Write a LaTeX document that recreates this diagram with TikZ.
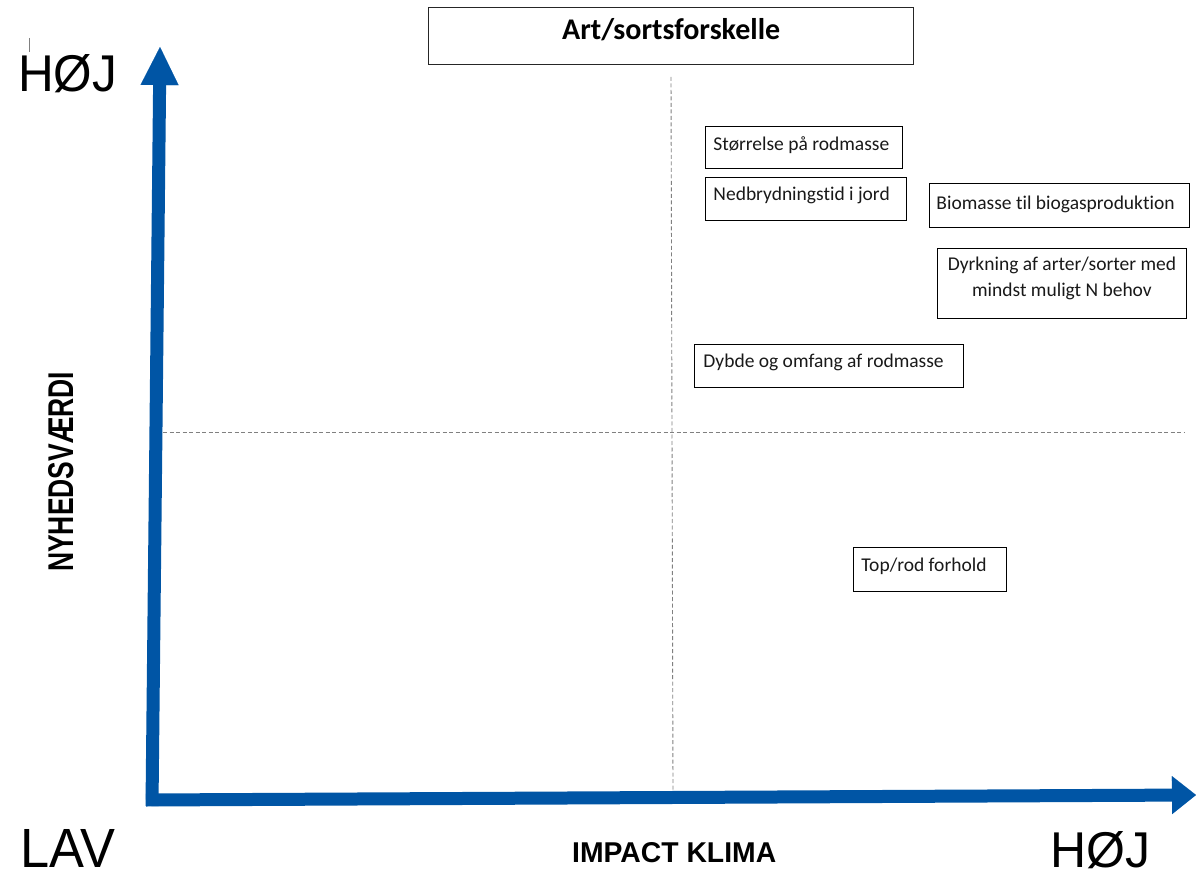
\documentclass[tikz,border=0pt]{standalone}
\usepackage{fontspec}
\setmainfont{Carlito}[Ligatures=NoCommon]
\newfontfamily\arialfont{Liberation Sans}
\usepackage{graphicx}
\usetikzlibrary{arrows.meta,calc}
\definecolor{axisblue}{RGB}{0,85,165}
\definecolor{gridgray}{RGB}{128,128,128}
\tikzset{
  axisline/.style={draw=axisblue, line width=13pt},
  gridline/.style={draw=gridgray, line width=0.9pt, dash pattern=on 4pt off 2.5pt},
  itembox/.style={draw=black, line width=0.9pt, anchor=north west, inner ysep=0pt,
    align=flush left, font=\fontsize{19.5}{24}\selectfont, text=black!90},
  biglabel/.style={inner sep=0pt, font=\arialfont, text=black},
}
\begin{document}
\begin{tikzpicture}[x=1pt,y=-1pt]
\useasboundingbox (0,0) rectangle (1196,874);

% dashed quadrant lines
\coordinate (vtop) at (671,77);
\coordinate (vbot) at (673,790);
\coordinate (hl) at (163,432);
\coordinate (hr) at (1185,432);
\draw[gridline] (vtop) -- (vbot);
\draw[gridline] (hl) -- (hr);

% axes
\coordinate (ystart) at (152,806);
\coordinate (ytop) at (160,47);
\coordinate (xstart) at (146,800);
\coordinate (xend) at (1196,795);
\draw[axisline, -{Triangle[length=38pt,width=38pt,line width=0.1pt]}] (ystart) -- (ytop);
\draw[axisline, -{Triangle[length=24pt,width=38pt,line width=0.1pt]}] (xstart) -- (xend);

% small tick mark
\draw[gray, line width=0.8pt] (29,38) -- (29,52);

% title
\node[draw=black!85, line width=1.3pt, anchor=north west, inner sep=0pt,
  minimum width=485pt, text height=32pt, text depth=25pt,
  font=\bfseries\fontsize{30}{36}\selectfont] (title) at (428,7) {Art/sortsforskelle};

% item boxes
\node[itembox, inner xsep=8pt, text width=181pt, text height=24pt, text depth=18pt]
  (stor) at (705,126) {Størrelse på rodmasse};
\node[itembox, inner xsep=8pt, text width=185pt, text height=23pt, text depth=20pt]
  (nedb) at (705,177) {Nedbrydningstid i jord};
\node[itembox, inner xsep=7pt, text width=246pt, text height=26pt, text depth=18pt]
  (biom) at (929,183) {Biomasse til biogasproduktion};
\node[draw=black, line width=0.9pt, anchor=north west, inner sep=0pt,
  minimum width=249pt, text height=22pt, text depth=48pt, text=black!90,
  font=\fontsize{19.5}{26}\selectfont]
  (dyrk) at (937,248) {\begin{tabular}[t]{@{}c@{}}Dyrkning af arter/sorter med\\mindst muligt N behov\end{tabular}};
\node[itembox, inner xsep=9pt, text width=251pt, text height=23pt, text depth=20pt]
  (dybd) at (694,344) {Dybde og omfang af rodmasse};
\node[itembox, inner xsep=8pt, text width=137pt, text height=24pt, text depth=20pt]
  (topr) at (853,547) {Top/rod forhold};

% axis labels
\node[biglabel, anchor=base west] (hojy) at (18,92) {\resizebox{99pt}{37pt}{HØJ}};
\node[biglabel, anchor=base west] (lav) at (20,867) {\resizebox{95pt}{38pt}{LAV}};
\node[biglabel, anchor=base west] (hojx) at (1050,867) {\resizebox{100pt}{36pt}{HØJ}};
\node[biglabel, anchor=base west] (impact) at (572,862) {\resizebox{204pt}{20pt}{\bfseries IMPACT KLIMA}};
\node[biglabel, anchor=base west, rotate=90] (nyhed) at (73,572) {\resizebox{200pt}{25pt}{\bfseries NYHEDSVÆRDI}};
\end{tikzpicture}
\end{document}
